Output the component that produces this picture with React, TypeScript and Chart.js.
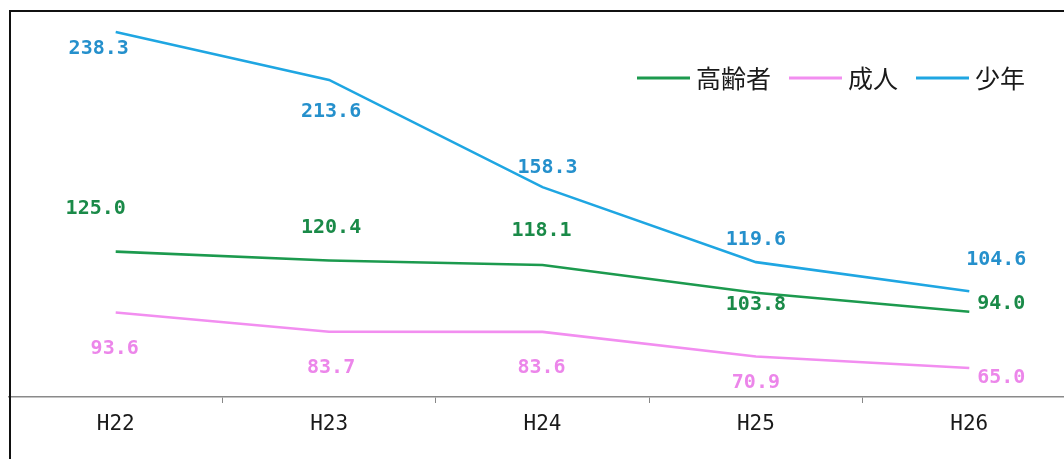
import React, { useEffect, useRef } from "react";
import { Chart, registerables } from "chart.js";

Chart.register(...registerables);

const categories = ["H22", "H23", "H24", "H25", "H26"];
const elderly = [125.0, 120.4, 118.1, 103.8, 94.0];
const adult = [93.6, 83.7, 83.6, 70.9, 65.0];
const youth = [238.3, 213.6, 158.3, 119.6, 104.6];
const seriesNames = ["高齢者", "成人", "少年"];

const lineColors = ["#1c9a4e", "#f28ef0", "#1fa6e2"];
const labelColors = ["#1a8a48", "#ec86ea", "#2590cc"];

// label offsets (dx, dy) from each point, in pixels
const labelOffsets = [
  [[-20, -43], [2, -33], [-1, -34], [0, 12], [32, -8]],
  [[-1, 36], [2, 36], [-1, 36], [0, 26], [32, 10]],
  [[-17, 17], [2, 32], [5, -19], [0, -22], [27, -31]],
];

const overlayPlugin = {
  id: "overlay",
  beforeDraw(chart: any) {
    const ctx = chart.ctx;
    ctx.save();
    ctx.fillStyle = "#ffffff";
    ctx.fillRect(0, 0, chart.width, chart.height);
    ctx.restore();
  },
  afterDatasetsDraw(chart: any) {
    const ctx = chart.ctx;
    ctx.save();
    // data labels
    ctx.font = 'bold 20px "DejaVu Sans Mono"';
    ctx.textAlign = "center";
    ctx.textBaseline = "middle";
    chart.data.datasets.forEach((ds: any, i: number) => {
      const meta = chart.getDatasetMeta(i);
      meta.data.forEach((pt: any, j: number) => {
        const [dx, dy] = labelOffsets[i][j];
        ctx.fillStyle = labelColors[i];
        ctx.fillText(Number(ds.data[j]).toFixed(1), pt.x + dx, pt.y + dy);
      });
    });
    // legend
    ctx.font = '25px "Noto Sans CJK JP"';
    ctx.textAlign = "left";
    let x = 637;
    const y = 78;
    seriesNames.forEach((name, i) => {
      ctx.strokeStyle = lineColors[i];
      ctx.lineWidth = 3;
      ctx.beginPath();
      ctx.moveTo(x, y);
      ctx.lineTo(x + 53, y);
      ctx.stroke();
      x += 59;
      ctx.fillStyle = "#1a1a1a";
      ctx.fillText(name, x, y);
      x += ctx.measureText(name).width + 18;
    });
    // outer border (left and top)
    ctx.strokeStyle = "#111111";
    ctx.lineWidth = 2;
    ctx.beginPath();
    ctx.moveTo(10, chart.height + 5);
    ctx.lineTo(10, 11);
    ctx.lineTo(chart.width + 5, 11);
    ctx.stroke();
    ctx.restore();
  },
};

export default function App() {
  const ref = useRef<HTMLCanvasElement | null>(null);
  useEffect(() => {
    if (!ref.current) return;
    const chart = new Chart(ref.current, {
      type: "line",
      data: {
        labels: categories,
        datasets: [
          { label: seriesNames[0], data: elderly, borderColor: lineColors[0], backgroundColor: lineColors[0], borderWidth: 2.6, pointRadius: 0, tension: 0 },
          { label: seriesNames[1], data: adult, borderColor: lineColors[1], backgroundColor: lineColors[1], borderWidth: 2.6, pointRadius: 0, tension: 0 },
          { label: seriesNames[2], data: youth, borderColor: lineColors[2], backgroundColor: lineColors[2], borderWidth: 2.6, pointRadius: 0, tension: 0 },
        ],
      },
      options: {
        responsive: false,
        animation: false,
        layout: { padding: { left: 9, right: 14, top: 9.4, bottom: 0 } },
        plugins: { legend: { display: false }, tooltip: { enabled: false } },
        scales: {
          x: {
            offset: true,
            afterFit: (scale: any) => {
              scale.height = 62;
            },
            grid: { offset: true, drawOnChartArea: false, drawTicks: true, tickLength: 6, color: "#888888", lineWidth: 1 },
            border: { display: true, color: "#8a8a8a", width: 1.5 },
            ticks: { color: "#1a1a1a", font: { family: '"DejaVu Sans Mono"', size: 21 }, padding: 9, maxRotation: 0 },
          },
          y: { display: false, min: 50, max: 250 },
        },
      },
      plugins: [overlayPlugin],
    });
    return () => chart.destroy();
  }, []);
  return (
    <div style={{ position: "fixed", left: 0, top: 0, width: 1064, height: 459, overflow: "hidden", background: "#fff" }}>
      <canvas ref={ref} width={1090} height={459} style={{ display: "block", width: 1090, height: 459 }} />
    </div>
  );
}
